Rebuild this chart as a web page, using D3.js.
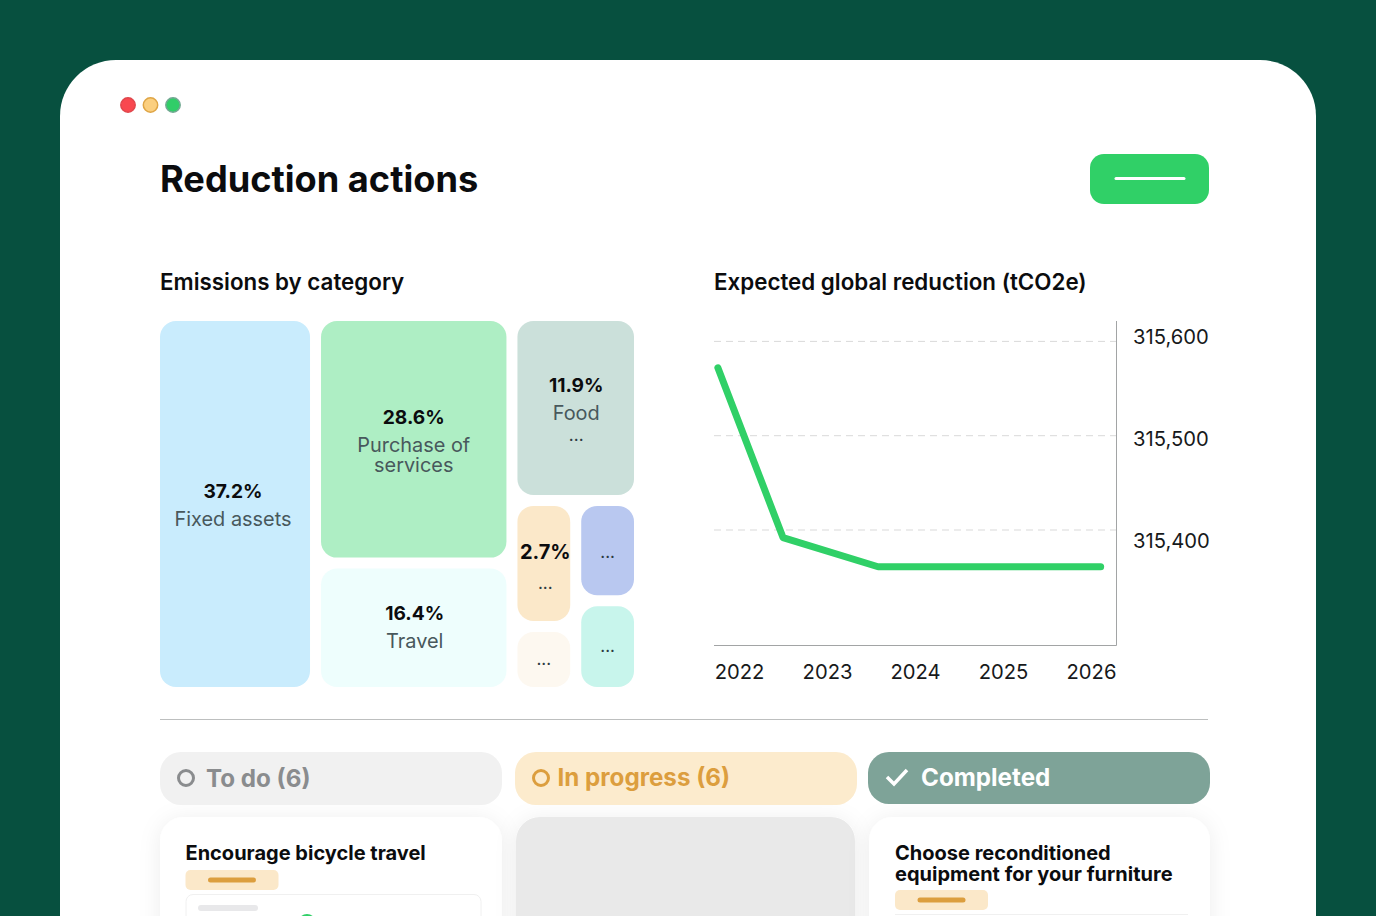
<!DOCTYPE html>
<html>
<head>
<meta charset="utf-8">
<title>Reduction actions</title>
<script src="https://cdn.jsdelivr.net/npm/d3@7"></script>
<style>
  html, body { margin: 0; padding: 0; background: #07503f; overflow: hidden; }
  svg { display: block; }
  text { font-family: Inter, "Noto Sans", sans-serif; }
</style>
</head>
<body>
<div id="chart"></div>
<script>
// treemap: label data, tile weights are the tile areas
// (the tiles are not proportional to the printed percentages)
const tileNames = ["fixed", "purchase", "travel", "food", "small1", "small2", "small3", "small4"];
const tilePercents = ["37.2%", "28.6%", "16.4%", "11.9%", "2.7%", "", "", ""];
const tileLabels = [["Fixed assets"], ["Purchase of", "services"], ["Travel"], ["Food", "..."], ["..."], ["..."], ["..."], ["..."]];
const tileWeights = [33.2, 26.6, 13.9, 12.9, 4.4, 2.3, 3.5, 3.2];
const tileColors = ["#c9ecfd", "#aeeec4", "#eefefd", "#cbe0da", "#fbe8c9", "#fdf8f0", "#b9c8f0", "#c8f5ec"];

// line chart
const lineYears = [2021.76, 2022.5, 2023.58, 2024.8, 2026.11];
const lineValues = [315572, 315392, 315361, 315361, 315361];
const tickYears = [2022, 2023, 2024, 2025, 2026];
const tickValues = [315600, 315500, 315400];

// status columns
const statusLabels = ["To do (6)", "In progress (6)", "Completed"];
const statusFills = ["#f1f1f1", "#fcebcd", "#7ea398"];
const statusInks = ["#8a8c8e", "#dc9e3e", "#ffffff"];

const width = 1376, height = 916;
const green = "#30d067";

const svg = d3.select("#chart").append("svg")
  .attr("width", width)
  .attr("height", height);

const defs = svg.append("defs");
const shadow = defs.append("filter").attr("id", "soft")
  .attr("x", "-20%").attr("y", "-20%").attr("width", "140%").attr("height", "140%");
shadow.append("feDropShadow")
  .attr("dx", 0).attr("dy", 2).attr("stdDeviation", 11)
  .attr("flood-color", "#000").attr("flood-opacity", 0.07);

// window
svg.append("rect").attr("width", width).attr("height", height).attr("fill", "#07503f");
svg.append("rect")
  .attr("x", 60).attr("y", 60)
  .attr("width", 1256).attr("height", 920)
  .attr("rx", 56)
  .attr("fill", "#fff");

svg.selectAll(".dot")
  .data([["#f9484f", "#e0474c"], ["#fbcf7f", "#dfa545"], ["#31cd68", "#72a892"]])
  .enter().append("circle")
  .attr("class", "dot")
  .attr("cx", (d, i) => 128 + i * 22.5)
  .attr("cy", 105)
  .attr("r", 7.2)
  .attr("fill", d => d[0])
  .attr("stroke", d => d[1])
  .attr("stroke-width", 1.5);

// header
svg.append("text")
  .text("Reduction actions")
  .attr("x", 160).attr("y", 192)
  .attr("font-size", 36.2).attr("font-weight", 700).attr("fill", "#0b0c0e");

svg.append("rect")
  .attr("x", 1090).attr("y", 154)
  .attr("width", 119).attr("height", 50)
  .attr("rx", 14).attr("fill", green);
svg.append("line")
  .attr("x1", 1116).attr("x2", 1184)
  .attr("y1", 178.5).attr("y2", 178.5)
  .attr("stroke", "#fff").attr("stroke-width", 3).attr("stroke-linecap", "round");

const sectionTitles = [["Emissions by category", 160], ["Expected global reduction (tCO2e)", 714]];
svg.selectAll(".section-title")
  .data(sectionTitles)
  .enter().append("text")
  .attr("class", "section-title")
  .text(d => d[0])
  .attr("x", d => d[1])
  .attr("y", 290)
  .attr("font-size", 22.35)
  .attr("font-weight", 600)
  .attr("fill", "#0b0c0e");

/* ---------- treemap ---------- */
const leaf = i => ({ name: tileNames[i], value: tileWeights[i], index: i });
const treeData = {
  children: [
    leaf(0),
    { children: [leaf(1), leaf(2)] },
    { children: [
      leaf(3),
      { children: [
        { children: [leaf(4), leaf(5)] },
        { children: [leaf(6), leaf(7)] }
      ] }
    ] }
  ]
};

const root = d3.hierarchy(treeData).sum(d => d.value || 0);

d3.treemap()
  .size([474, 366])
  .paddingInner(11)
  .tile((node, x0, y0, x1, y1) => {
    // columns and rows alternate at each level
    (node.depth % 2 ? d3.treemapSlice : d3.treemapDice)(node, x0, y0, x1, y1);
  })(root);

const tiles = svg.append("g")
  .attr("transform", "translate(160, 321)")
  .selectAll(".tile")
  .data(root.leaves())
  .enter().append("g")
  .attr("class", "tile")
  .attr("transform", d => `translate(${d.x0}, ${d.y0})`);

tiles.append("rect")
  .attr("width", d => d.x1 - d.x0)
  .attr("height", d => d.y1 - d.y0)
  .attr("rx", 16)
  .attr("fill", d => tileColors[d.data.index]);

// the labels in the picture are not quite centred in their tiles
const nudgeX = [-2, 0, 1, 0.5, 1.5, 0, 0, 0];
const nudgeY = [5, 6.5, 3.5, 7, 7, 5, 7, 5];

tiles.each(function (d) {
  const g = d3.select(this);
  const i = d.data.index;
  const cx = (d.x1 - d.x0) / 2 + nudgeX[i];
  const cy = (d.y1 - d.y0) / 2 + nudgeY[i];
  const pct = tilePercents[i];
  const lines = tileLabels[i];
  const hasPct = pct !== "";
  const small = i === 4;
  const blockH = (hasPct ? 28 : 0) + (lines.length - 1) * (i === 1 ? 22 : 24) + 8;
  let y = cy - blockH / 2 + (hasPct ? 7 : 4);

  if (hasPct) {
    g.append("text")
      .text(pct)
      .attr("x", cx).attr("y", y)
      .attr("text-anchor", "middle")
      .attr("font-size", small ? 20 : 19.2)
      .attr("font-weight", 700)
      .attr("fill", "#0b0c0e");
    y += small ? 33 : 28;
  }
  lines.forEach((line, k) => {
    const isDots = line === "...";
    g.append("text")
      .text(line)
      .attr("x", cx)
      .attr("y", y + (isDots && hasPct ? -3 : 0))
      .attr("text-anchor", "middle")
      .attr("font-size", isDots ? 17 : 19.9)
      .attr("font-weight", 400)
      .attr("fill", isDots ? "#2b3a3f" : "#48585c");
    y += i === 1 ? 20.5 : 24;
  });
});

/* ---------- line chart ---------- */
const x = d3.scaleLinear().domain([2022, 2026]).range([739, 1091]);
const y = d3.scaleLinear().domain([315400, 315600]).range([530, 341.4]);
// the value labels in the picture sit on a wider pitch than the grid lines
const yLabel = d3.scalePoint().domain(tickValues).range([336, 540]);

svg.append("g")
  .selectAll("line")
  .data(tickValues)
  .enter().append("line")
  .attr("x1", 714).attr("x2", 1120)
  .attr("y1", d => y(d)).attr("y2", d => y(d))
  .attr("stroke", "#d9d9d9")
  .attr("stroke-width", 1)
  .attr("stroke-dasharray", "7 5");

svg.append("line")
  .attr("x1", 1116.5).attr("x2", 1116.5)
  .attr("y1", 321).attr("y2", 645.5)
  .attr("stroke", "#a2a4a5");
svg.append("line")
  .attr("x1", 714).attr("x2", 1116.5)
  .attr("y1", 645.5).attr("y2", 645.5)
  .attr("stroke", "#a2a4a5");

const xAxis = svg.append("g")
  .attr("transform", "translate(0, 645)")
  .call(d3.axisBottom(x).tickValues(tickYears).tickFormat(d3.format("d")).tickSize(0));
xAxis.select(".domain").remove();
xAxis.selectAll("text")
  .attr("y", 0).attr("dy", 34)
  .attr("font-size", 20.2)
  .attr("font-family", "Inter")
  .attr("fill", "#17191b");

const yAxis = svg.append("g")
  .attr("transform", "translate(1133, 0)")
  .call(d3.axisRight(yLabel).tickFormat(d3.format(",")).tickSize(0));
yAxis.select(".domain").remove();
yAxis.selectAll("text")
  .attr("x", 0).attr("dy", 7.3)
  .attr("font-size", 20.2)
  .attr("font-family", "Inter")
  .attr("fill", "#17191b");

const line = d3.line()
  .x((d, i) => x(lineYears[i]))
  .y(d => y(d));

svg.append("path")
  .datum(lineValues)
  .attr("d", line)
  .attr("fill", "none")
  .attr("stroke", green)
  .attr("stroke-width", 7)
  .attr("stroke-linecap", "round")
  .attr("stroke-linejoin", "round");

svg.append("line")
  .attr("x1", 160).attr("x2", 1208)
  .attr("y1", 719.5).attr("y2", 719.5)
  .attr("stroke", "#bdbfbf");

/* ---------- status columns ---------- */
const columnX = [160, 515, 868];
const cardX = [160, 516, 869];
const cardW = [342, 339, 341];

svg.selectAll(".card")
  .data(cardX)
  .enter().append("rect")
  .attr("class", "card")
  .attr("x", d => d)
  .attr("y", 817)
  .attr("width", (d, i) => cardW[i])
  .attr("height", 200)
  .attr("rx", 24)
  .attr("fill", (d, i) => i === 1 ? "#e9e9e9" : "#fff")
  .attr("filter", "url(#soft)");

const pills = svg.selectAll(".pill")
  .data(statusLabels)
  .enter().append("g")
  .attr("class", "pill")
  .attr("transform", (d, i) => `translate(${columnX[i]}, 752)`);

pills.append("rect")
  .attr("width", 342)
  .attr("height", (d, i) => i === 2 ? 52 : 53)
  .attr("rx", 21)
  .attr("fill", (d, i) => statusFills[i]);

pills.filter((d, i) => i < 2).append("circle")
  .attr("cx", 26)
  .attr("cy", 26)
  .attr("r", 7.5)
  .attr("fill", "none")
  .attr("stroke", (d, i) => statusInks[i])
  .attr("stroke-width", 3);

pills.filter((d, i) => i === 2).append("path")
  .attr("d", d3.line()([[19, 25], [26, 32], [39, 18]]))
  .attr("fill", "none")
  .attr("stroke", "#fff")
  .attr("stroke-width", 3.5);

pills.append("text")
  .text(d => d)
  .attr("x", (d, i) => [46, 42.5, 53][i])
  .attr("y", (d, i) => i === 0 ? 35 : 34)
  .attr("font-size", 24.2)
  .attr("font-weight", 700)
  .attr("fill", (d, i) => statusInks[i]);

/* ---------- first and third cards ---------- */
const cardTitles = [
  [185.5, 860, "Encourage bicycle travel"],
  [895, 860, "Choose reconditioned"],
  [895, 880.5, "equipment for your furniture"]
];
svg.selectAll(".card-title")
  .data(cardTitles)
  .enter().append("text")
  .attr("class", "card-title")
  .text(d => d[2])
  .attr("x", d => d[0])
  .attr("y", d => d[1])
  .attr("font-size", 20)
  .attr("font-weight", 700)
  .attr("fill", "#0b0c0e");

const tags = [[185.5, 870], [895, 890]];
svg.selectAll(".tag")
  .data(tags)
  .enter().append("rect")
  .attr("class", "tag")
  .attr("x", d => d[0]).attr("y", d => d[1])
  .attr("width", 93).attr("height", 20)
  .attr("rx", 5)
  .attr("fill", "#fbe8c9");
svg.selectAll(".tag-bar")
  .data(tags)
  .enter().append("rect")
  .attr("class", "tag-bar")
  .attr("x", d => d[0] + 22.5).attr("y", d => d[1] + 7.5)
  .attr("width", 48).attr("height", 5)
  .attr("rx", 2.5)
  .attr("fill", "#dc9e3e");

svg.append("rect")
  .attr("x", 186).attr("y", 894.5)
  .attr("width", 295).attr("height", 60)
  .attr("rx", 7)
  .attr("fill", "#fff").attr("stroke", "#f0f0f0");
svg.append("rect")
  .attr("x", 198).attr("y", 905)
  .attr("width", 60).attr("height", 6)
  .attr("rx", 3).attr("fill", "#e8e8ea");
svg.append("circle")
  .attr("cx", 307).attr("cy", 923).attr("r", 9).attr("fill", green);
svg.append("line")
  .attr("x1", 895).attr("x2", 1188)
  .attr("y1", 914.5).attr("y2", 914.5)
  .attr("stroke", "#f0f0f0");
</script>
</body>
</html>
